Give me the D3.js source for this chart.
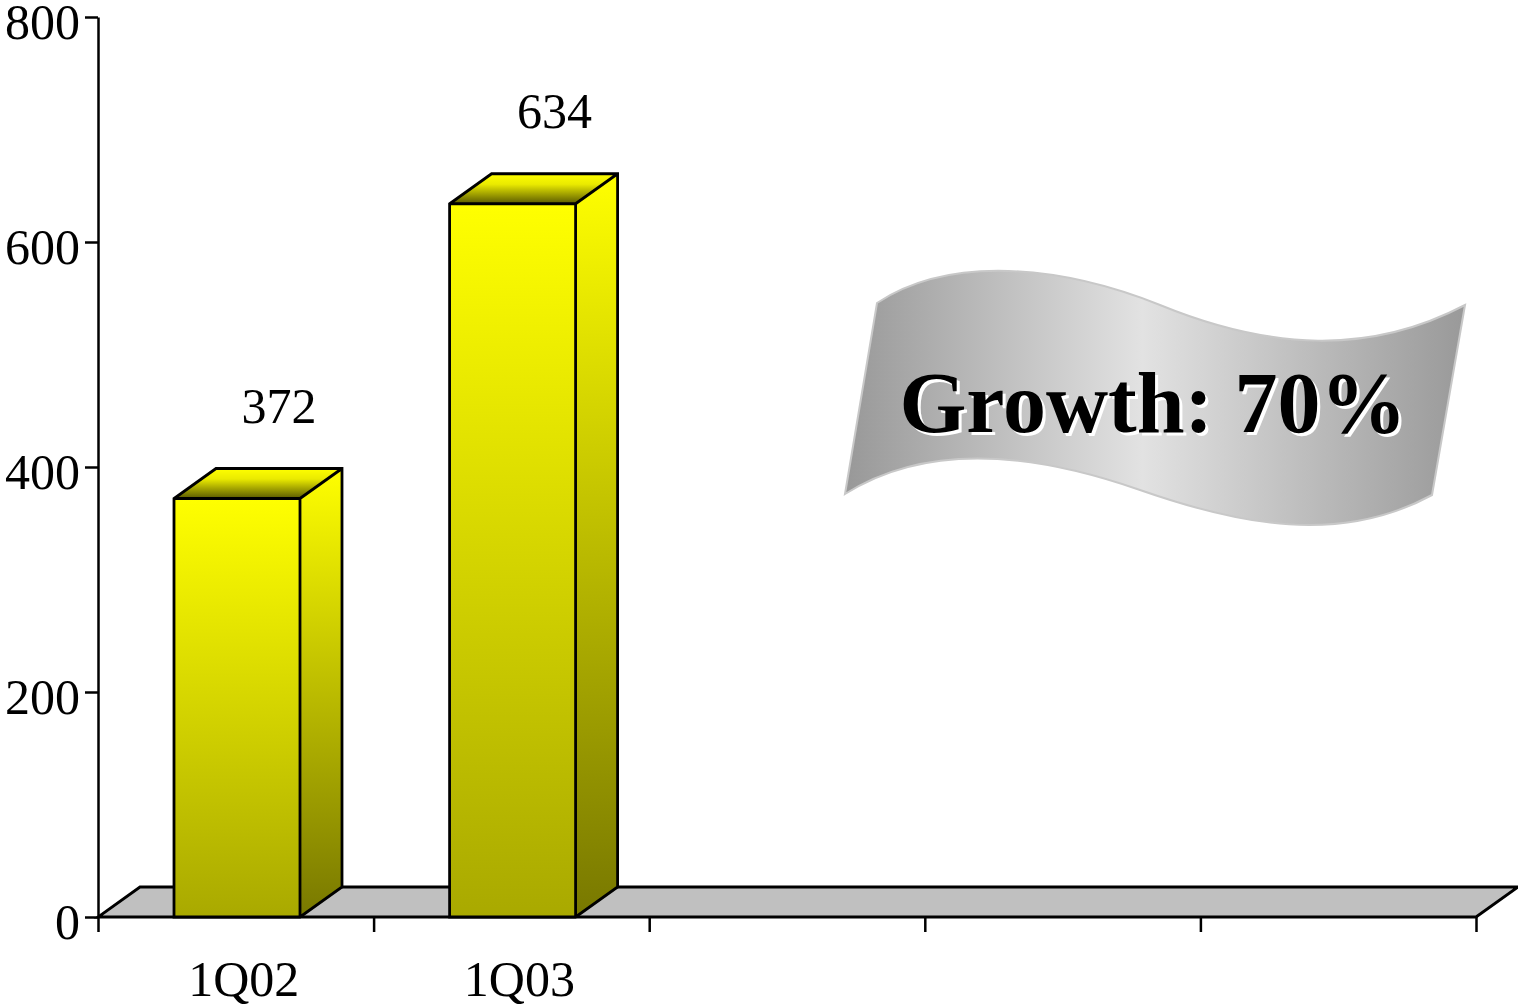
<!DOCTYPE html>
<html>
<head>
<meta charset="utf-8">
<script src="https://cdn.jsdelivr.net/npm/d3@7"></script>
<style>
  html, body { margin: 0; padding: 0; background: #ffffff; }
  svg { display: block; }
  text { font-family: "Liberation Serif", "Times New Roman", serif; }
</style>
</head>
<body>
<div id="chart"></div>
<script>
// chart data
const categories = ["1Q02", "1Q03", "", "", ""];
const values = [372, 634, null, null, null];
const yTicks = [0, 200, 400, 600, 800];
const bannerText = "Growth: 70%";

const width = 1518;
const height = 1006;
const depthX = 42;
const depthY = 30;

const svg = d3.select("#chart").append("svg").attr("width", width).attr("height", height);
const defs = svg.append("defs");

// scales
const y = d3.scaleLinear().domain([0, 800]).range([917, 17]);
const x = d3.scaleBand().domain(d3.range(categories.length)).range([98, 1476]).paddingInner(0).paddingOuter(0);
const xEdge = d3.scaleLinear().domain([0, categories.length]).range([98, 1476]);

// gradients
function vGradient(id, stops) {
  const g = defs.append("linearGradient").attr("id", id)
    .attr("x1", "0%").attr("y1", "0%").attr("x2", "0%").attr("y2", "100%");
  stops.forEach(([o, c]) => g.append("stop").attr("offset", o).attr("stop-color", c));
}
vGradient("front-grad", [["0%", "#ffff00"], ["100%", "#a9a900"]]);
vGradient("side-grad", [["0%", "#ffff00"], ["100%", "#787800"]]);
vGradient("top-grad", [["0%", "#ffff00"], ["35%", "#eaea00"], ["100%", "#5a5a00"]]);

const banner = defs.append("linearGradient").attr("id", "banner-grad")
  .attr("x1", "0%").attr("y1", "0%").attr("x2", "100%").attr("y2", "0%");
banner.append("stop").attr("offset", "0%").attr("stop-color", "#989898");
banner.append("stop").attr("offset", "48%").attr("stop-color", "#e2e2e2");
banner.append("stop").attr("offset", "100%").attr("stop-color", "#999999");

// floor
const x0 = xEdge(0), x1 = xEdge(categories.length), yb = y(0);
svg.append("path")
  .attr("d", `M${x0},${yb} L${x1},${yb} L${x1 + depthX},${yb - depthY} L${x0 + depthX},${yb - depthY} Z`)
  .attr("fill", "#c0c0c0")
  .attr("stroke", "#000")
  .attr("stroke-width", 2.8)
  .attr("stroke-linejoin", "miter");

// y axis
const yAxis = svg.append("g")
  .attr("transform", `translate(${x0},0)`)
  .call(d3.axisLeft(y).tickValues(yTicks).tickSize(13).tickSizeOuter(0).tickPadding(5));
yAxis.select(".domain").attr("stroke", "#000").attr("stroke-width", 2.5);
yAxis.selectAll(".tick line").attr("stroke", "#000").attr("stroke-width", 2.5);
yAxis.selectAll(".tick text")
  .attr("font-size", 50)
  .attr("font-family", "Liberation Serif, Times New Roman, serif")
  .attr("fill", "#000")
  .attr("dy", "0.43em");

// x axis ticks (category boundaries)
const xAxis = svg.append("g")
  .attr("transform", `translate(0,${yb})`)
  .call(d3.axisBottom(xEdge).tickValues(d3.range(categories.length + 1)).tickSize(15).tickFormat(""));
xAxis.select(".domain").remove();
xAxis.selectAll(".tick line").attr("stroke", "#000").attr("stroke-width", 2.5);

// category labels
svg.append("g").selectAll("text")
  .data(categories)
  .join("text")
  .attr("x", (d, i) => x(i) + x.bandwidth() / 2 + 8)
  .attr("y", 996)
  .attr("text-anchor", "middle")
  .attr("font-size", 50)
  .attr("fill", "#000")
  .text((d) => d);

// 3D bars
const barOffset = 76;
const barWidth = 126;
const bars = svg.append("g").selectAll("g")
  .data(values.map((v, i) => ({ v, i })).filter((d) => d.v != null))
  .join("g");

bars.each(function (d) {
  const g = d3.select(this);
  const left = x(d.i) + barOffset;
  const right = left + barWidth;
  const top = y(d.v);
  // side
  g.append("path")
    .attr("d", `M${right},${yb} L${right + depthX},${yb - depthY} L${right + depthX},${top - depthY} L${right},${top} Z`)
    .attr("fill", "url(#side-grad)");
  // top
  g.append("path")
    .attr("d", `M${left},${top} L${left + depthX},${top - depthY} L${right + depthX},${top - depthY} L${right},${top} Z`)
    .attr("fill", "url(#top-grad)");
  // front
  g.append("rect")
    .attr("x", left).attr("y", top)
    .attr("width", barWidth).attr("height", yb - top)
    .attr("fill", "url(#front-grad)");
  // outlines
  g.append("path")
    .attr("d", `M${left},${yb} L${left},${top} L${left + depthX},${top - depthY} L${right + depthX},${top - depthY} L${right + depthX},${yb - depthY} L${right},${yb} Z M${left},${top} L${right},${top} L${right + depthX},${top - depthY} M${right},${top} L${right},${yb}`)
    .attr("fill", "none")
    .attr("stroke", "#000")
    .attr("stroke-width", 2.8)
    .attr("stroke-linejoin", "miter");
  // value label
  g.append("text")
    .attr("x", (left + right) / 2 + depthX)
    .attr("y", top - 76)
    .attr("text-anchor", "middle")
    .attr("font-size", 50)
    .attr("fill", "#000")
    .text(d.v);
});

// growth banner
const bannerG = svg.append("g");
bannerG.append("path")
  .attr("d", "M877,303 C950,255 1060,265 1160,305 C1270,350 1370,355 1465,305 L1432,495 C1340,545 1240,525 1140,490 C1040,455 930,440 845,494 Z")
  .attr("fill", "url(#banner-grad)")
  .attr("stroke", "#c8c8c8")
  .attr("stroke-width", 2);

const bx = 1153, by = 432;
bannerG.append("text")
  .attr("x", bx + 3).attr("y", by + 3)
  .attr("text-anchor", "middle")
  .attr("font-size", 86)
  .attr("font-weight", "bold")
  .attr("fill", "#fff")
  .text(bannerText);
bannerG.append("text")
  .attr("x", bx).attr("y", by)
  .attr("text-anchor", "middle")
  .attr("font-size", 86)
  .attr("font-weight", "bold")
  .attr("fill", "#000")
  .text(bannerText);
</script>
</body>
</html>
